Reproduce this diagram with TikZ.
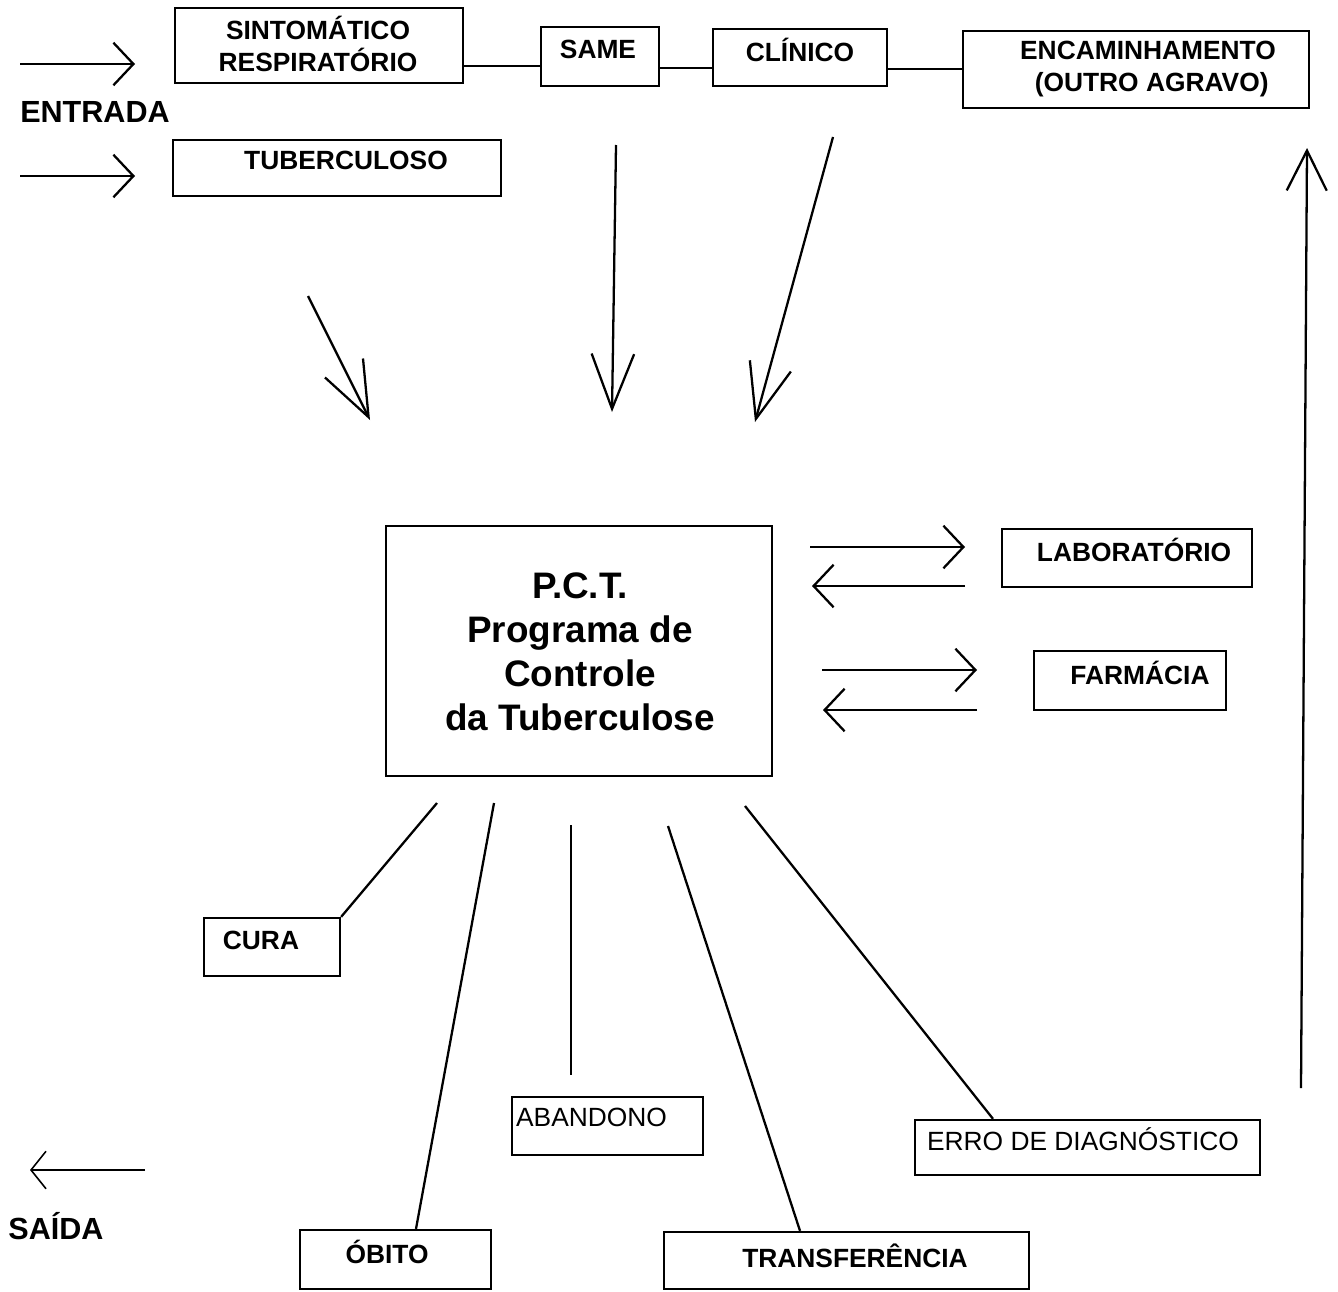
\documentclass[tikz,border=0pt]{standalone}
\usepackage{fontspec}
\setmainfont{Liberation Sans}
\usetikzlibrary{arrows.meta}
\begin{document}
\begin{tikzpicture}[x=0.02cm,y=-0.02cm,line width=1.3pt]
    \tikzstyle{box}=[rectangle,draw,line width=1.3pt,inner sep=0pt]
    \tikzstyle{lbl}=[inner sep=0pt,align=center,font=\fontsize{15}{18}\selectfont\bfseries]
    \tikzstyle{thin}=[inner sep=0pt,font=\fontsize{15}{18}\selectfont]
    \tikzstyle{big}=[inner sep=0pt,font=\fontsize{17.4}{20}\selectfont\bfseries]
    \tikzstyle{small arrow}=[-{Straight Barb[length=4mm,width=8.5mm]}]
    \tikzstyle{long arrow}=[-{Straight Barb[length=11mm,width=8.5mm]}]
    \useasboundingbox (0,0) rectangle (1338,1291);

    % entrada
    \node[box,minimum width=5.76cm,minimum height=1.5cm] (sint) at (319,45.5) {};
    \node[lbl] (sintT) at (318,44) {SINTOMÁTICO\\RESPIRATÓRIO};
    \node[box,minimum width=2.36cm,minimum height=1.18cm] (same) at (600,56.5) {};
    \node[lbl] (sameT) at (598,49) {SAME};
    \node[box,minimum width=3.48cm,minimum height=1.14cm] (clin) at (800,57.5) {};
    \node[lbl] (clinT) at (800,50) {CLÍNICO};
    \node[box,minimum width=6.92cm,minimum height=1.54cm] (enc) at (1136,69.5) {};
    \node[lbl] (encT) at (1148,69) {ENCAMINHAMENTO\\\ (OUTRO AGRAVO)};
    \node[box,minimum width=6.56cm,minimum height=1.12cm] (tub) at (337,168) {};
    \node[lbl] (tubT) at (346,160) {TUBERCULOSO};
    \node[big] (entrada) at (95,112) {ENTRADA};

    \draw (sint.east |- 0,66) -- (same.west |- 0,66);
    \draw (same.east |- 0,68) -- (clin.west |- 0,68);
    \draw (clin.east |- 0,69) -- (enc.west |- 0,69);

    \coordinate (in1) at (20,64);   \coordinate (in1e) at (135,64);
    \coordinate (in2) at (20,176);  \coordinate (in2e) at (135,176);
    \draw[small arrow] (in1) -- (in1e);
    \draw[small arrow] (in2) -- (in2e);

    % programa
    \node[box,minimum width=7.72cm,minimum height=5cm] (pct) at (579,651) {};
    \node[inner sep=0pt,align=center,font=\fontsize{21}{25}\selectfont\bfseries] (pctT) at (580,652)
        {P.C.T.\\Programa de\\Controle\\da Tuberculose};

    \coordinate (d1) at (308,296);  \coordinate (d1e) at (370,420);
    \coordinate (d2) at (616,145);  \coordinate (d2e) at (612,412);
    \coordinate (d3) at (833,137);  \coordinate (d3e) at (755,422);
    \draw[long arrow] (d1) -- (d1e);
    \draw[long arrow] (d2) -- (d2e);
    \draw[long arrow] (d3) -- (d3e);

    \coordinate (up) at (1301,1088); \coordinate (upe) at (1307,148);
    \draw[-{Straight Barb[length=8mm,width=8mm]}] (up) -- (upe);

    \node[box,minimum width=5cm,minimum height=1.16cm] (lab) at (1127,558) {};
    \node[lbl] (labT) at (1134,550) {LABORATÓRIO};
    \node[box,minimum width=3.84cm,minimum height=1.18cm] (farm) at (1130,680.5) {};
    \node[lbl] (farmT) at (1140,673) {FARMÁCIA};

    \coordinate (l1) at (810,547);  \coordinate (l1e) at (965,547);
    \coordinate (l2) at (965,586);  \coordinate (l2e) at (812,586);
    \coordinate (f1) at (822,670);  \coordinate (f1e) at (977,670);
    \coordinate (f2) at (977,710);  \coordinate (f2e) at (823,710);
    \draw[small arrow] (l1) -- (l1e);
    \draw[small arrow] (l2) -- (l2e);
    \draw[small arrow] (f1) -- (f1e);
    \draw[small arrow] (f2) -- (f2e);

    % saida
    \node[box,minimum width=2.72cm,minimum height=1.16cm] (cura) at (272,947) {};
    \node[lbl] (curaT) at (261,940) {CURA};
    \node[box,minimum width=3.82cm,minimum height=1.18cm] (obito) at (395.5,1259.5) {};
    \node[lbl] (obitoT) at (387,1252) {ÓBITO};
    \node[box,minimum width=3.82cm,minimum height=1.16cm] (aband) at (607.5,1126) {};
    \node[thin,anchor=west] (abandT) at (515,1117) {ABANDONO};
    \node[box,minimum width=7.3cm,minimum height=1.14cm] (transf) at (846.5,1260.5) {};
    \node[lbl] (transfT) at (855,1256) {TRANSFERÊNCIA};
    \node[box,minimum width=6.9cm,minimum height=1.1cm] (erro) at (1087.5,1147.5) {};
    \node[thin] (erroT) at (1083,1139) {ERRO DE DIAGNÓSTICO};

    \coordinate (o1) at (437,803);
    \coordinate (o2) at (494,803);
    \coordinate (o3) at (571,825);  \coordinate (o3e) at (571,1075);
    \coordinate (o4) at (668,826);
    \coordinate (o5) at (745,806);
    \draw (o1) -- (cura.north east);
    \draw (o2) -- (416,0 |- obito.north);
    \draw (o3) -- (o3e);
    \draw (o4) -- (800,0 |- transf.north);
    \draw (o5) -- (993,0 |- erro.north);

    \coordinate (out) at (145,1170); \coordinate (oute) at (30,1170);
    \draw[line width=0.9pt,-{Straight Barb[length=3mm,width=7.5mm]}] (out) -- (oute);
    \node[big] (saida) at (56,1226) {SAÍDA};

\end{tikzpicture}
\end{document}
